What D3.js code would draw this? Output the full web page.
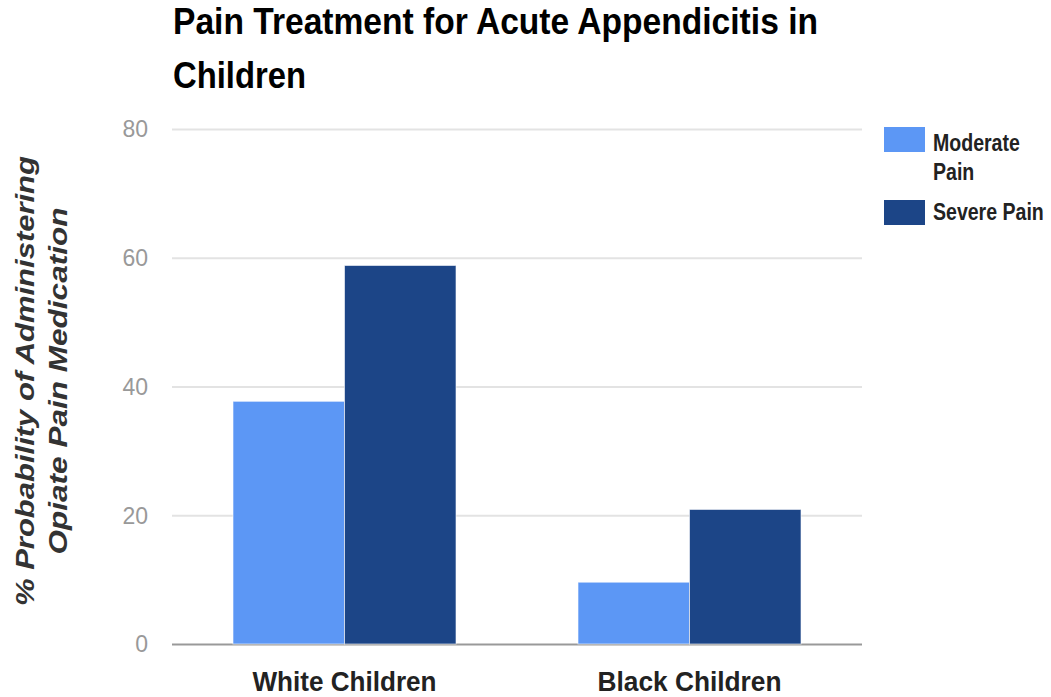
<!DOCTYPE html>
<html>
<head>
<meta charset="utf-8">
<script src="https://cdn.jsdelivr.net/npm/d3@7"></script>
<style>
  body { margin: 0; background: #fff; }
  text { font-family: Arial, "Liberation Sans", sans-serif; }
</style>
</head>
<body>
<svg id="chart" width="1051" height="697"></svg>
<script>
var categories = ["White Children", "Black Children"];
var seriesNames = ["Moderate Pain", "Severe Pain"];
var moderatePain = [37.7, 9.6];
var severePain = [58.8, 20.9];
var yTicks = [0, 20, 40, 60, 80];

var svg = d3.select("#chart"),
    margin = {top: 129, right: 189, bottom: 53, left: 172},
    width = +svg.attr("width") - margin.left - margin.right,
    height = +svg.attr("height") - margin.top - margin.bottom,
    g = svg.append("g").attr("transform", "translate(" + margin.left + "," + margin.top + ")");

var rows = categories.map(function(c, i) {
    return {cat: c, values: [moderatePain[i], severePain[i]]};
});

var x0 = d3.scaleBand()
    .domain(categories)
    .range([0, width])
    .paddingInner(0.3536)
    .paddingOuter(0.1768);

var x1 = d3.scaleBand()
    .domain(seriesNames)
    .range([0, x0.bandwidth()]);

var y = d3.scaleLinear()
    .domain([0, 80])
    .range([height, 0]);

var z = d3.scaleOrdinal()
    .domain(seriesNames)
    .range(["#5c97f5", "#1c4587"]);

// grid lines
g.append("g")
    .selectAll("line")
    .data(yTicks)
    .enter().append("line")
    .attr("x1", 0)
    .attr("x2", width)
    .attr("y1", function(d) { return y(d) + 0.5; })
    .attr("y2", function(d) { return y(d) + 0.5; })
    .attr("stroke", function(d) { return d === 0 ? "#999" : "#e3e3e3"; })
    .attr("stroke-width", 2);

// y tick labels
g.append("g")
    .selectAll("text")
    .data(yTicks)
    .enter().append("text")
    .attr("x", -24)
    .attr("y", function(d) { return y(d); })
    .attr("dy", "0.36em")
    .attr("text-anchor", "end")
    .attr("font-size", 23)
    .attr("fill", "#999")
    .text(function(d) { return d; });

// bars
g.append("g")
    .selectAll("g")
    .data(rows)
    .enter().append("g")
    .attr("transform", function(d) { return "translate(" + x0(d.cat) + ",0)"; })
    .selectAll("rect")
    .data(function(d) { return d.values.map(function(v, i) { return {key: seriesNames[i], value: v}; }); })
    .enter().append("rect")
    .attr("x", function(d) { return x1(d.key); })
    .attr("y", function(d) { return y(d.value); })
    .attr("width", x1.bandwidth())
    .attr("height", function(d) { return height - y(d.value); })
    .attr("fill", function(d) { return z(d.key); })
    .attr("stroke", "#fff")
    .attr("stroke-opacity", 0.6)
    .attr("stroke-width", 1);

// x labels
g.append("g")
    .selectAll("text")
    .data(categories)
    .enter().append("text")
    .attr("x", function(d) { return x0(d) + x0.bandwidth() / 2; })
    .attr("y", height + 47)
    .attr("text-anchor", "middle")
    .attr("font-size", 27)
    .attr("font-weight", "bold")
    .attr("fill", "#222")
    .attr("textLength", 184)
    .attr("lengthAdjust", "spacingAndGlyphs")
    .text(function(d) { return d; });

// title
var title = svg.append("text")
    .attr("font-size", 37)
    .attr("font-weight", "bold")
    .attr("fill", "#000");
title.append("tspan").attr("x", 173).attr("y", 34)
    .attr("textLength", 645).attr("lengthAdjust", "spacingAndGlyphs")
    .text("Pain Treatment for Acute Appendicitis in");
title.append("tspan").attr("x", 173).attr("y", 88)
    .attr("textLength", 133).attr("lengthAdjust", "spacingAndGlyphs")
    .text("Children");

// y axis title
var yTitle = svg.append("text")
    .attr("transform", "translate(0,381) rotate(-90)")
    .attr("text-anchor", "middle")
    .attr("font-size", 25)
    .attr("font-weight", "bold")
    .attr("font-style", "italic")
    .attr("fill", "#333");
yTitle.append("tspan").attr("x", 0).attr("y", 34)
    .attr("textLength", 450).attr("lengthAdjust", "spacingAndGlyphs")
    .text("% Probability of Administering");
yTitle.append("tspan").attr("x", 0).attr("y", 67)
    .attr("textLength", 347).attr("lengthAdjust", "spacingAndGlyphs")
    .text("Opiate Pain Medication");

// legend (labels squeezed horizontally like the original)
var legendLines = [["Moderate", "Pain"], ["Severe Pain"]];

var legend = svg.append("g")
    .selectAll("g")
    .data(seriesNames)
    .enter().append("g")
    .attr("transform", function(d, i) { return "translate(884," + (127 + i * 73) + ")"; });

legend.append("rect")
    .attr("width", 41)
    .attr("height", 25)
    .attr("fill", z);

legend.each(function(d, i) {
    var el = d3.select(this);
    legendLines[i].forEach(function(l, j) {
        el.append("text")
            .attr("transform", "translate(49," + ((i === 0 ? 24 : 20) + j * 29) + ") scale(0.85,1)")
            .attr("font-size", 23)
            .attr("font-weight", "bold")
            .attr("fill", "#222")
            .text(l);
    });
});
</script>
</body>
</html>
